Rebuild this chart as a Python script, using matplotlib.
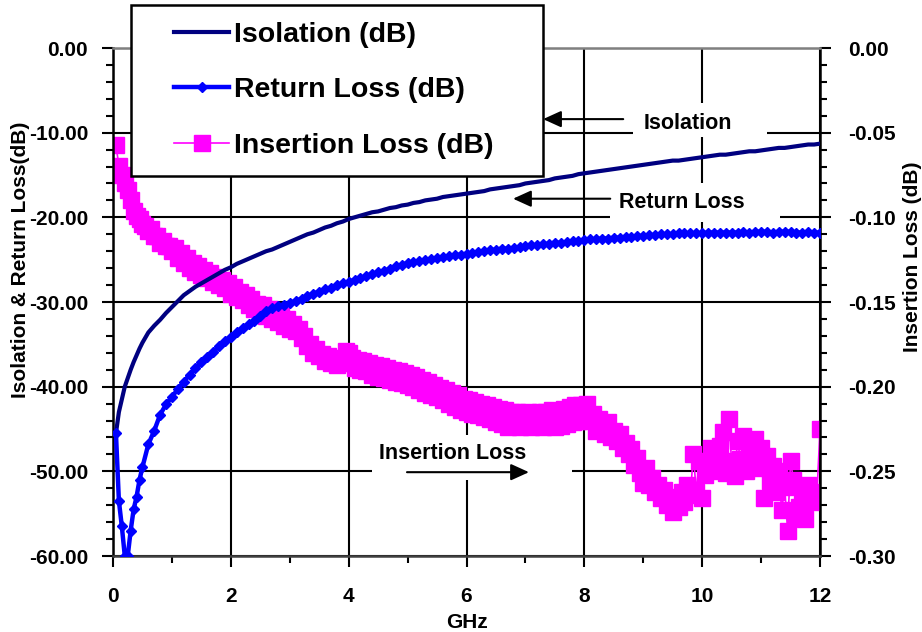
import matplotlib
matplotlib.use("Agg")
import matplotlib.pyplot as plt
from matplotlib.ticker import MultipleLocator, FormatStrFormatter
from matplotlib.patches import Rectangle
from matplotlib.legend_handler import HandlerLine2D

plt.rcParams['font.family'] = ['Liberation Sans', 'DejaVu Sans']
plt.rcParams['font.weight'] = 'bold'

# ---------------- data ----------------
freq_ghz = [0.05, 0.1, 0.15, 0.2, 0.25, 0.3, 0.35, 0.4, 0.45, 0.5,
            0.6, 0.7, 0.8, 0.9, 1.0, 1.1, 1.2, 1.3, 1.4, 1.5,
            1.6, 1.7, 1.8, 1.9, 2.0, 2.1, 2.2, 2.3, 2.4, 2.5,
            2.6, 2.7, 2.8, 2.9, 3.0, 3.1, 3.2, 3.3, 3.4, 3.5,
            3.6, 3.7, 3.8, 3.9, 4.0, 4.1, 4.2, 4.3, 4.4, 4.5,
            4.6, 4.7, 4.8, 4.9, 5.0, 5.1, 5.2, 5.3, 5.4, 5.5,
            5.6, 5.7, 5.8, 5.9, 6.0, 6.1, 6.2, 6.3, 6.4, 6.5,
            6.6, 6.7, 6.8, 6.9, 7.0, 7.1, 7.2, 7.3, 7.4, 7.5,
            7.6, 7.7, 7.8, 7.9, 8.0, 8.1, 8.2, 8.3, 8.4, 8.5,
            8.6, 8.7, 8.8, 8.9, 9.0, 9.1, 9.2, 9.3, 9.4, 9.5,
            9.6, 9.7, 9.8, 9.9, 10.0, 10.1, 10.2, 10.3, 10.4, 10.5,
            10.6, 10.7, 10.8, 10.9, 11.0, 11.1, 11.2, 11.3, 11.4, 11.5,
            11.6, 11.7, 11.8, 11.9, 12.0]

isolation_db = [-45.5, -43.0, -41.5, -40.0, -39.0, -38.0, -37.1, -36.3, -35.5, -34.8,
                -33.6, -32.8, -32.1, -31.3, -30.6, -29.9, -29.2, -28.7, -28.2, -27.8,
                -27.4, -27.0, -26.6, -26.2, -25.9, -25.5, -25.2, -24.9, -24.6, -24.3,
                -24.0, -23.8, -23.5, -23.2, -22.9, -22.6, -22.3, -22.0, -21.8, -21.5,
                -21.2, -21.0, -20.7, -20.5, -20.2, -20.0, -19.8, -19.6, -19.4, -19.3,
                -19.1, -18.9, -18.8, -18.6, -18.5, -18.3, -18.2, -18.0, -17.9, -17.8,
                -17.6, -17.5, -17.4, -17.3, -17.2, -17.1, -17.0, -16.9, -16.7, -16.6,
                -16.5, -16.4, -16.3, -16.2, -16.0, -15.9, -15.8, -15.7, -15.6, -15.4,
                -15.3, -15.2, -15.1, -14.9, -14.8, -14.7, -14.6, -14.5, -14.4, -14.3,
                -14.2, -14.1, -14.0, -13.9, -13.8, -13.7, -13.6, -13.5, -13.4, -13.3,
                -13.3, -13.2, -13.1, -13.0, -12.9, -12.8, -12.7, -12.6, -12.6, -12.5,
                -12.4, -12.3, -12.2, -12.2, -12.1, -12.0, -11.9, -11.8, -11.8, -11.7,
                -11.6, -11.5, -11.4, -11.4, -11.3]

return_loss_db = [-45.5, -53.5, -56.5, -60.0, -60.0, -57.0, -54.5, -53.0, -51.0, -49.5,
                  -46.8, -45.2, -43.3, -42.1, -41.2, -40.3, -39.4, -38.6, -37.8, -37.1,
                  -36.5, -35.9, -35.2, -34.6, -34.1, -33.6, -33.1, -32.6, -32.2, -31.6,
                  -31.1, -30.7, -30.5, -30.3, -30.1, -29.9, -29.6, -29.3, -29.0, -28.8,
                  -28.5, -28.3, -28.0, -27.8, -27.6, -27.4, -27.2, -26.9, -26.7, -26.5,
                  -26.3, -26.1, -25.8, -25.6, -25.4, -25.3, -25.2, -25.0, -24.9, -24.8,
                  -24.7, -24.6, -24.5, -24.4, -24.3, -24.2, -24.1, -24.0, -23.9, -23.8,
                  -23.7, -23.7, -23.6, -23.5, -23.4, -23.3, -23.3, -23.2, -23.1, -23.0,
                  -23.0, -22.9, -22.8, -22.8, -22.7, -22.6, -22.6, -22.5, -22.5, -22.4,
                  -22.4, -22.3, -22.3, -22.2, -22.2, -22.1, -22.1, -22.0, -22.0, -22.0,
                  -21.9, -21.9, -21.9, -21.9, -21.9, -21.8, -21.8, -21.8, -21.8, -21.8,
                  -21.8, -21.7, -21.8, -21.7, -21.7, -21.7, -21.8, -21.7, -21.7, -21.7,
                  -21.8, -21.8, -21.7, -21.8, -21.8]

il_freq_ghz = [0.05, 0.10, 0.15, 0.20, 0.25, 0.30, 0.35, 0.40, 0.45, 0.50,
               0.55, 0.60, 0.65, 0.70, 0.75, 0.80, 0.85, 0.90, 0.95, 1.00,
               1.05, 1.10, 1.15, 1.20, 1.25, 1.30, 1.35, 1.40, 1.45, 1.50,
               1.55, 1.60, 1.65, 1.70, 1.75, 1.80, 1.85, 1.90, 1.95, 2.00,
               2.05, 2.10, 2.15, 2.20, 2.25, 2.30, 2.35, 2.40, 2.45, 2.50,
               2.55, 2.60, 2.65, 2.70, 2.75, 2.80, 2.85, 2.90, 2.95, 3.00,
               3.05, 3.10, 3.15, 3.20, 3.25, 3.30, 3.35, 3.40, 3.45, 3.50,
               3.55, 3.60, 3.65, 3.70, 3.75, 3.80, 3.85, 3.90, 3.95, 4.00,
               4.05, 4.10, 4.15, 4.20, 4.25, 4.30, 4.35, 4.40, 4.45, 4.50,
               4.55, 4.60, 4.65, 4.70, 4.75, 4.80, 4.85, 4.90, 4.95, 5.00,
               5.05, 5.10, 5.15, 5.20, 5.25, 5.30, 5.35, 5.40, 5.45, 5.50,
               5.55, 5.60, 5.65, 5.70, 5.75, 5.80, 5.85, 5.90, 5.95, 6.00,
               6.05, 6.10, 6.15, 6.20, 6.25, 6.30, 6.35, 6.40, 6.45, 6.50,
               6.55, 6.60, 6.65, 6.70, 6.75, 6.80, 6.85, 6.90, 6.95, 7.00,
               7.05, 7.10, 7.15, 7.20, 7.25, 7.30, 7.35, 7.40, 7.45, 7.50,
               7.55, 7.60, 7.65, 7.70, 7.75, 7.80, 7.85, 7.90, 7.95, 8.00,
               8.05, 8.10, 8.15, 8.20, 8.25, 8.30, 8.35, 8.40, 8.45, 8.50,
               8.55, 8.60, 8.65, 8.70, 8.75, 8.80, 8.85, 8.90, 8.95, 9.00,
               9.05, 9.10, 9.15, 9.20, 9.25, 9.30, 9.35, 9.40, 9.45, 9.50,
               9.55, 9.60, 9.65, 9.70, 9.75, 9.80, 9.85, 9.90, 9.95, 10.00,
               10.05, 10.10, 10.15, 10.20, 10.25, 10.30, 10.35, 10.40, 10.45, 10.50,
               10.55, 10.60, 10.65, 10.70, 10.75, 10.80, 10.85, 10.90, 10.95, 11.00,
               11.05, 11.10, 11.15, 11.20, 11.25, 11.30, 11.35, 11.40, 11.45, 11.50,
               11.55, 11.60, 11.65, 11.70, 11.75, 11.80, 11.85, 11.90, 11.95, 12.00]

insertion_loss_db = [-0.0575, -0.0695, -0.075, -0.080, -0.084, -0.090, -0.096, -0.099, -0.101, -0.104,
                     -0.105, -0.108, -0.107, -0.111, -0.111, -0.115, -0.114, -0.117, -0.117, -0.120,
                     -0.118, -0.124, -0.121, -0.127, -0.124, -0.130, -0.127, -0.132, -0.129, -0.134,
                     -0.131, -0.136, -0.133, -0.138, -0.135, -0.140, -0.137, -0.142, -0.139, -0.145,
                     -0.141, -0.147, -0.144, -0.149, -0.146, -0.152, -0.148, -0.154, -0.151, -0.156,
                     -0.152, -0.158, -0.154, -0.160, -0.156, -0.162, -0.158, -0.164, -0.160, -0.166,
                     -0.163, -0.167, -0.166, -0.171, -0.170, -0.176, -0.175, -0.180, -0.178, -0.182,
                     -0.181, -0.185, -0.182, -0.186, -0.183, -0.187, -0.184, -0.186, -0.179, -0.180,
                     -0.183, -0.189, -0.184, -0.190, -0.185, -0.191, -0.186, -0.193, -0.187, -0.194,
                     -0.188, -0.195, -0.189, -0.196, -0.190, -0.197, -0.191, -0.198, -0.192, -0.199,
                     -0.193, -0.200, -0.194, -0.202, -0.196, -0.204, -0.197, -0.205, -0.199, -0.206,
                     -0.201, -0.208, -0.202, -0.210, -0.204, -0.212, -0.205, -0.214, -0.207, -0.215,
                     -0.208, -0.216, -0.209, -0.217, -0.210, -0.218, -0.211, -0.219, -0.212, -0.221,
                     -0.213, -0.222, -0.214, -0.224, -0.215, -0.223, -0.215, -0.224, -0.216, -0.223,
                     -0.215, -0.224, -0.216, -0.223, -0.215, -0.224, -0.215, -0.223, -0.214, -0.224,
                     -0.215, -0.223, -0.213, -0.222, -0.212, -0.221, -0.211, -0.220, -0.211, -0.219,
                     -0.210, -0.220, -0.216, -0.226, -0.219, -0.223, -0.228, -0.221, -0.230, -0.226,
                     -0.232, -0.228, -0.236, -0.233, -0.240, -0.237, -0.246, -0.242, -0.251, -0.257,
                     -0.248, -0.258, -0.254, -0.262, -0.258, -0.266, -0.261, -0.270, -0.265, -0.274,
                     -0.266, -0.271, -0.262, -0.268, -0.258, -0.264, -0.240, -0.262, -0.244, -0.266,
                     -0.252, -0.246, -0.236, -0.250, -0.241, -0.235, -0.227, -0.251, -0.219, -0.244,
                     -0.253, -0.232, -0.243, -0.229, -0.250, -0.236, -0.246, -0.231, -0.248, -0.236,
                     -0.266, -0.241, -0.256, -0.247, -0.262, -0.250, -0.273, -0.259, -0.285, -0.244,
                     -0.255, -0.276, -0.271, -0.262, -0.278, -0.258, -0.268, -0.263, -0.262, -0.225]

left_ticks = [-60, -50, -40, -30, -20, -10, 0]
right_ticks = [-0.30, -0.25, -0.20, -0.15, -0.10, -0.05, 0.0]
x_ticks = [0, 2, 4, 6, 8, 10, 12]

# ---------------- figure ----------------
W, H = 922, 632
fig = plt.figure(figsize=(W / 100, H / 100), dpi=100)
ax_l, ax_r, ax_t, ax_b = 113, 820, 48, 556
ax = fig.add_axes([ax_l / W, 1 - ax_b / H, (ax_r - ax_l) / W, (ax_b - ax_t) / H])
ax2 = ax.twinx()
ax.set_zorder(ax2.get_zorder() + 1)
ax.patch.set_visible(False)
ax2.patch.set_visible(True)
ax2.patch.set_facecolor('white')

ax.set_xlim(0, 12)
ax.set_ylim(-60, 0)
ax2.set_ylim(-0.30, 0)

# grid on the back axes
ax2.xaxis.set_visible(True)
ax2.set_axisbelow(True)
ax2.set_xticks(x_ticks)
ax2.set_yticks(right_ticks)
ax2.grid(True, which='major', color='black', lw=1.5)
ax2.tick_params(axis='x', which='both', bottom=False, top=False,
                labelbottom=False, labeltop=False)

# data
il_line, = ax2.plot(il_freq_ghz, insertion_loss_db, color='#FF00FF', lw=1.2,
                    marker='s', markersize=12, markeredgecolor='#FF00FF',
                    markerfacecolor='#FF00FF', zorder=2, label='Insertion Loss (dB)')
iso_line, = ax.plot(freq_ghz, isolation_db, color='#000080', lw=3,
                    zorder=3, label='Isolation (dB)')
rl_line, = ax.plot(freq_ghz, return_loss_db, color='#0000FF', lw=3.2,
                   marker='D', markersize=5.5, zorder=4, label='Return Loss (dB)')

# ticks
ax.set_xticks(x_ticks)
ax.xaxis.set_minor_locator(MultipleLocator(1))
ax.set_yticks(left_ticks)
ax.yaxis.set_minor_locator(MultipleLocator(2))
ax.yaxis.set_major_formatter(FormatStrFormatter('%.2f'))
ax2.yaxis.set_minor_locator(MultipleLocator(0.01))
ax2.yaxis.set_major_formatter(FormatStrFormatter('%.2f'))

ax.tick_params(axis='x', which='major', direction='out', length=8, width=1.5,
               pad=14, labelsize=15)
ax.tick_params(axis='x', which='minor', direction='out', length=5, width=1.5)
ax.tick_params(axis='y', which='major', direction='out', length=8, width=1.5,
               pad=10, labelsize=15)
ax.tick_params(axis='y', which='minor', direction='out', length=5, width=1.5)
ax2.tick_params(axis='y', which='major', direction='out', length=8, width=1.5,
                pad=12, labelsize=15)
ax2.tick_params(axis='y', which='minor', direction='out', length=5, width=1.5)
for lab in ax.get_xticklabels() + ax.get_yticklabels() + ax2.get_yticklabels():
    lab.set_fontweight('bold')

# spines
for s in ax2.spines.values():
    s.set_visible(False)
ax.spines['left'].set_color('black')
ax.spines['left'].set_linewidth(1.8)
ax.spines['right'].set_color('black')
ax.spines['right'].set_linewidth(1.8)
ax.spines['top'].set_color('#808080')
ax.spines['top'].set_linewidth(1.8)
ax.spines['bottom'].set_color('#404040')
ax.spines['bottom'].set_linewidth(1.8)

# labels
ax.set_xlabel('GHz', fontsize=15, fontweight='bold')
ax.xaxis.set_label_coords(0.5, -0.112)
ax.set_ylabel('Isolation & Return Loss(dB)', fontsize=15, fontweight='bold')
ax.yaxis.set_label_coords(-0.118, 0.583)
ax2.set_ylabel('Insertion Loss (dB)', fontsize=15, fontweight='bold')
ax2.yaxis.set_label_coords(1.117, 0.59)

# annotation boxes (white, hide grid)
def white_box(x0, x1, y0, y1):
    ax2.add_patch(Rectangle((x0, y0), x1 - x0, y1 - y0, transform=ax.transData,
                            facecolor='white', edgecolor='none', zorder=1.5))

white_box(8.83, 11.10, -10.5, -6.5)
white_box(8.44, 11.32, -20.5, -15.9)
white_box(4.39, 7.79, -51.0, -45.7)

akw = dict(fontsize=15.5, fontweight='bold', ha='center', va='center', zorder=5)
ax.text(9.76, -8.9, 'Isolation', **akw)
ax.text(9.66, -18.2, 'Return Loss', **akw)
ax.text(5.77, -47.9, 'Insertion Loss', **akw)

aprops = dict(arrowstyle='-|>,head_length=0.55,head_width=0.25', mutation_scale=20,
              lw=1.5, color='black', shrinkA=0, shrinkB=0)
ax.annotate('', xy=(7.30, -8.4), xytext=(8.66, -8.4), arrowprops=aprops, zorder=5)
ax.annotate('', xy=(6.79, -17.8), xytext=(8.44, -17.8), arrowprops=aprops, zorder=5)
ax.annotate('', xy=(7.06, -50.1), xytext=(4.99, -50.1), arrowprops=aprops, zorder=5)

# legend
handles = [iso_line, rl_line, il_line]
hmap = {h: HandlerLine2D(xpad=0.92) for h in handles}
leg = fig.legend(handles, [h.get_label() for h in handles],
                 loc='upper left',
                 bbox_to_anchor=(131 / W, 1 - 5 / H, (543 - 131) / W, 0),
                 bbox_transform=fig.transFigure, mode='expand', borderaxespad=0,
                 frameon=True, fancybox=False, edgecolor='black', framealpha=1,
                 borderpad=0.6, labelspacing=1.03, handlelength=2.85,
                 handletextpad=0.15, numpoints=1, handler_map=hmap,
                 prop={'size': 20.5, 'weight': 'bold'})
leg.get_frame().set_linewidth(1.8)
leg.set_zorder(10)

fig.savefig('out.png', dpi=100)
